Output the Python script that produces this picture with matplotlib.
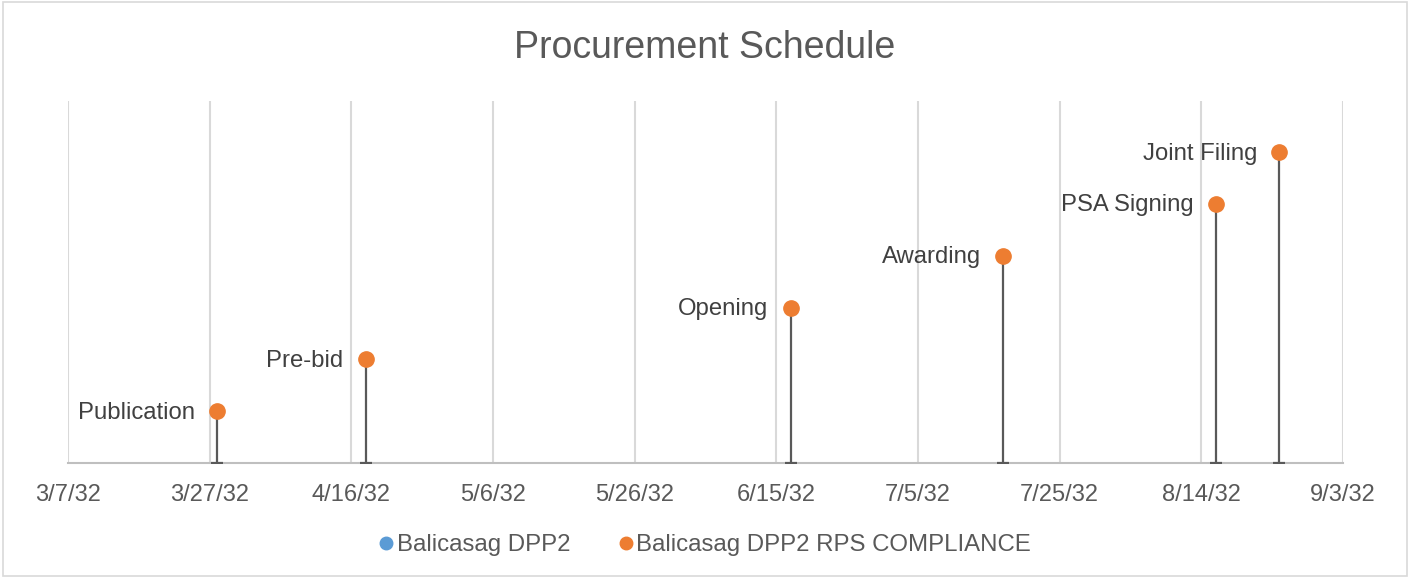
import datetime as dt
import matplotlib
matplotlib.use("Agg")
import matplotlib.pyplot as plt
import matplotlib.dates as mdates
from matplotlib.lines import Line2D
from matplotlib.patches import Rectangle

plt.rcParams['font.family'] = ['Liberation Sans', 'DejaVu Sans']

# ---- data ----
milestones = ["Publication", "Pre-bid", "Opening", "Awarding", "PSA Signing", "Joint Filing"]
milestone_dates = ["2032-03-28", "2032-04-18", "2032-06-17", "2032-07-17", "2032-08-16", "2032-08-25"]
heights = [1, 2, 3, 4, 5, 6]
series_main = "Balicasag DPP2"
series_rps = "Balicasag DPP2 RPS COMPLIANCE"
main_dates = []
main_heights = []
x_start = "2032-03-07"
x_end = "2032-09-03"
tick_step_days = 20

dates = [dt.datetime.strptime(d, "%Y-%m-%d") for d in milestone_dates]
d0 = dt.datetime.strptime(x_start, "%Y-%m-%d")
d1 = dt.datetime.strptime(x_end, "%Y-%m-%d")

fig = plt.figure(figsize=(14.1, 5.78), dpi=100)
ax = fig.add_axes([68/1410, 1-463/578, (1343-68)/1410, (463-100.5)/578])

ORANGE = "#ED7D31"
BLUE = "#5B9BD5"
STEM = "#595959"

ax.errorbar(dates, heights, yerr=[heights, [0]*len(heights)], fmt='none',
            ecolor=STEM, elinewidth=1.6, capsize=4.3, capthick=1.6, zorder=3)
ax.plot(dates, heights, 'o', color=ORANGE, markersize=11, zorder=4, label=series_rps)
ax.plot(main_dates, main_heights, 'o', color=BLUE, markersize=11, label=series_main)

for name, d, h in zip(milestones, dates, heights):
    ax.annotate(name, (mdates.date2num(d), h), xytext=(-16, -1), textcoords='offset points',
                ha='right', va='center', fontsize=17.2, color='#404040')

ax.set_xlim(d0, d1)
ax.set_ylim(0, 7)
ticks = []
t = d0
while t <= d1:
    ticks.append(t)
    t += dt.timedelta(days=tick_step_days)
ax.set_xticks(ticks)
ax.set_xticklabels([f"{d.month}/{d.day}/{d.year % 100:02d}" for d in ticks])
ax.tick_params(axis='x', length=0, pad=15, labelsize=17, labelcolor='#595959')
ax.set_yticks([])
ax.grid(axis='x', color='#D9D9D9', linewidth=1.5)
ax.set_axisbelow(True)
for s in ['left', 'right', 'top']:
    ax.spines[s].set_visible(False)
ax.spines['bottom'].set_color('#BFBFBF')
ax.spines['bottom'].set_linewidth(1.5)

fig.text(0.5, 1-48/578, "Procurement Schedule", ha='center', va='center',
         fontsize=27, color='#595959')

handles = [Line2D([], [], marker='o', linestyle='none', color=BLUE, markersize=9),
           Line2D([], [], marker='o', linestyle='none', color=ORANGE, markersize=9)]
fig.legend(handles, [series_main, series_rps], loc='center', bbox_to_anchor=(0.5, 1-545/578),
           ncol=2, frameon=False, fontsize=17.3, labelcolor='#595959',
           handlelength=0.6, handletextpad=0.15, columnspacing=2.0)

fig.patches.append(Rectangle((0.002, 0.003), 0.996, 0.994, transform=fig.transFigure,
                             fill=False, edgecolor='#D9D9D9', linewidth=1.2))

fig.savefig("out.png", dpi=100, facecolor='white')
